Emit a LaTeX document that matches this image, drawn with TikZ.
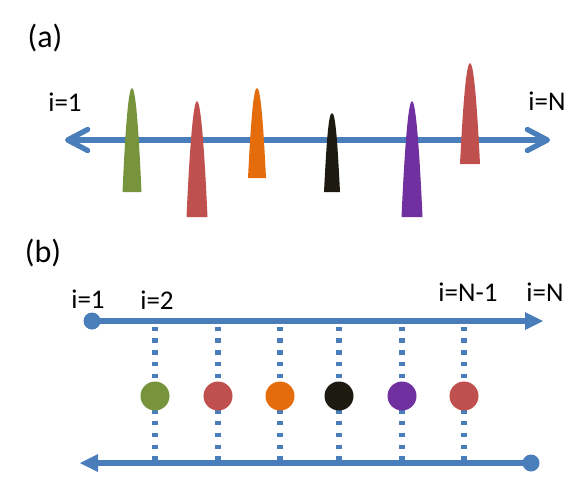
\documentclass[tikz,border=0pt]{standalone}
\usepackage{fontspec}
\setmainfont{Carlito}
\usepackage{xcolor}
\usetikzlibrary{arrows.meta,positioning,backgrounds}
\definecolor{linecolor}{RGB}{74,126,187}
\definecolor{greencolor}{RGB}{119,147,60}
\definecolor{redcolor}{RGB}{192,80,77}
\definecolor{orangecolor}{RGB}{228,108,10}
\definecolor{blackcolor}{RGB}{29,27,17}
\definecolor{purplecolor}{RGB}{112,48,160}

% pulse: colour, centre x, top y, bottom y, half width
\newcommand{\pulse}[5]{%
	\fill[#1] (#2-#5,#4) .. controls (#2-0.68*#5,0.36*#4+0.64*#3) and (#2-3.5,#3) .. (#2,#3)
	.. controls (#2+3.5,#3) and (#2+0.68*#5,0.36*#4+0.64*#3) .. (#2+#5,#4) -- cycle;%
}

\begin{document}
\begin{tikzpicture}[
	x=1pt,
	y=-1pt,
	parttext/.style={
		font=\fontsize{32}{38}\selectfont,
		inner sep=0pt
	},
	sitetext/.style={
		font=\fontsize{27}{32}\selectfont,
		inner sep=0pt
	},
	chainline/.style={
		draw=linecolor,
		line width=5.3pt,
		{Straight Barb[length=20pt,width=21pt,line cap=round,line join=round]}-{Straight Barb[length=20pt,width=21pt,line cap=round,line join=round]}
	},
	rail/.style={
		draw=linecolor,
		line width=5.3pt
	},
	rung/.style={
		draw=linecolor,
		line width=5.5pt,
		dash pattern=on 4.5pt off 7.3pt,
		shorten <=5.5pt
	},
	site/.style={
		circle,
		fill=#1,
		minimum size=29pt,
		inner sep=0pt
	},
	site/.default=greencolor,
	enddot/.style={
		circle,
		fill=linecolor,
		minimum size=17pt,
		inner sep=0pt
	}
	]
	\useasboundingbox (0,0) rectangle (585,483);
	
	% Part (a)
	\node[parttext] (parta) at (45,38) {(a)};
	\coordinate (chainL) at (65,140);
	\coordinate (chainR) at (550,140);
	\draw[chainline] (chainL) -- (chainR);
	\node[sitetext] (afirst) at (65,102) {i=1};
	\node[sitetext] (alast) at (547,101) {i=N};
	
	% Pulses
	\pulse{greencolor}{132}{88}{192}{9.5}
	\pulse{redcolor}{197}{101}{217}{10.5}
	\pulse{orangecolor}{257}{88}{178}{9}
	\pulse{blackcolor}{332}{113}{192}{8}
	\pulse{purplecolor}{412}{101}{217}{10.5}
	\pulse{redcolor}{470}{63}{164}{10}
	
	% Part (b)
	\node[parttext] (partb) at (43,253) {(b)};
	\node[enddot] (topstart) at (92,321) {};
	\coordinate (topend) at (543,321);
	\node[enddot] (botstart) at (531,463) {};
	\coordinate (botend) at (80,463);
	\draw[rail,-{Triangle[length=18pt,width=18pt,line width=0pt]}] (topstart.center) -- (topend);
	\draw[rail,-{Triangle[length=18pt,width=18pt,line width=0pt]}] (botstart.center) -- (botend);
	
	\node[sitetext] (bfirst) at (88,299) {i=1};
	\node[sitetext] (bsecond) at (157,300) {i=2};
	\node[sitetext] (bprev) at (468,292) {i=N-1};
	\node[sitetext] (blast) at (545,292) {i=N};
	
	% Sites
	\node[site=greencolor] (s1) at (155,396) {};
	\node[site=redcolor] (s2) at (218,396) {};
	\node[site=orangecolor] (s3) at (280,396) {};
	\node[site=blackcolor] (s4) at (339,396) {};
	\node[site=purplecolor] (s5) at (402,396) {};
	\node[site=redcolor] (s6) at (464,396) {};
	
	% Rungs
	\begin{scope}[on background layer]
		\draw[rung] (s1 |- topstart) -- (s1 |- botstart);
		\draw[rung] (s2 |- topstart) -- (s2 |- botstart);
		\draw[rung] (s3 |- topstart) -- (s3 |- botstart);
		\draw[rung] (s4 |- topstart) -- (s4 |- botstart);
		\draw[rung] (s5 |- topstart) -- (s5 |- botstart);
		\draw[rung] (s6 |- topstart) -- (s6 |- botstart);
	\end{scope}
	
\end{tikzpicture}
\end{document}
